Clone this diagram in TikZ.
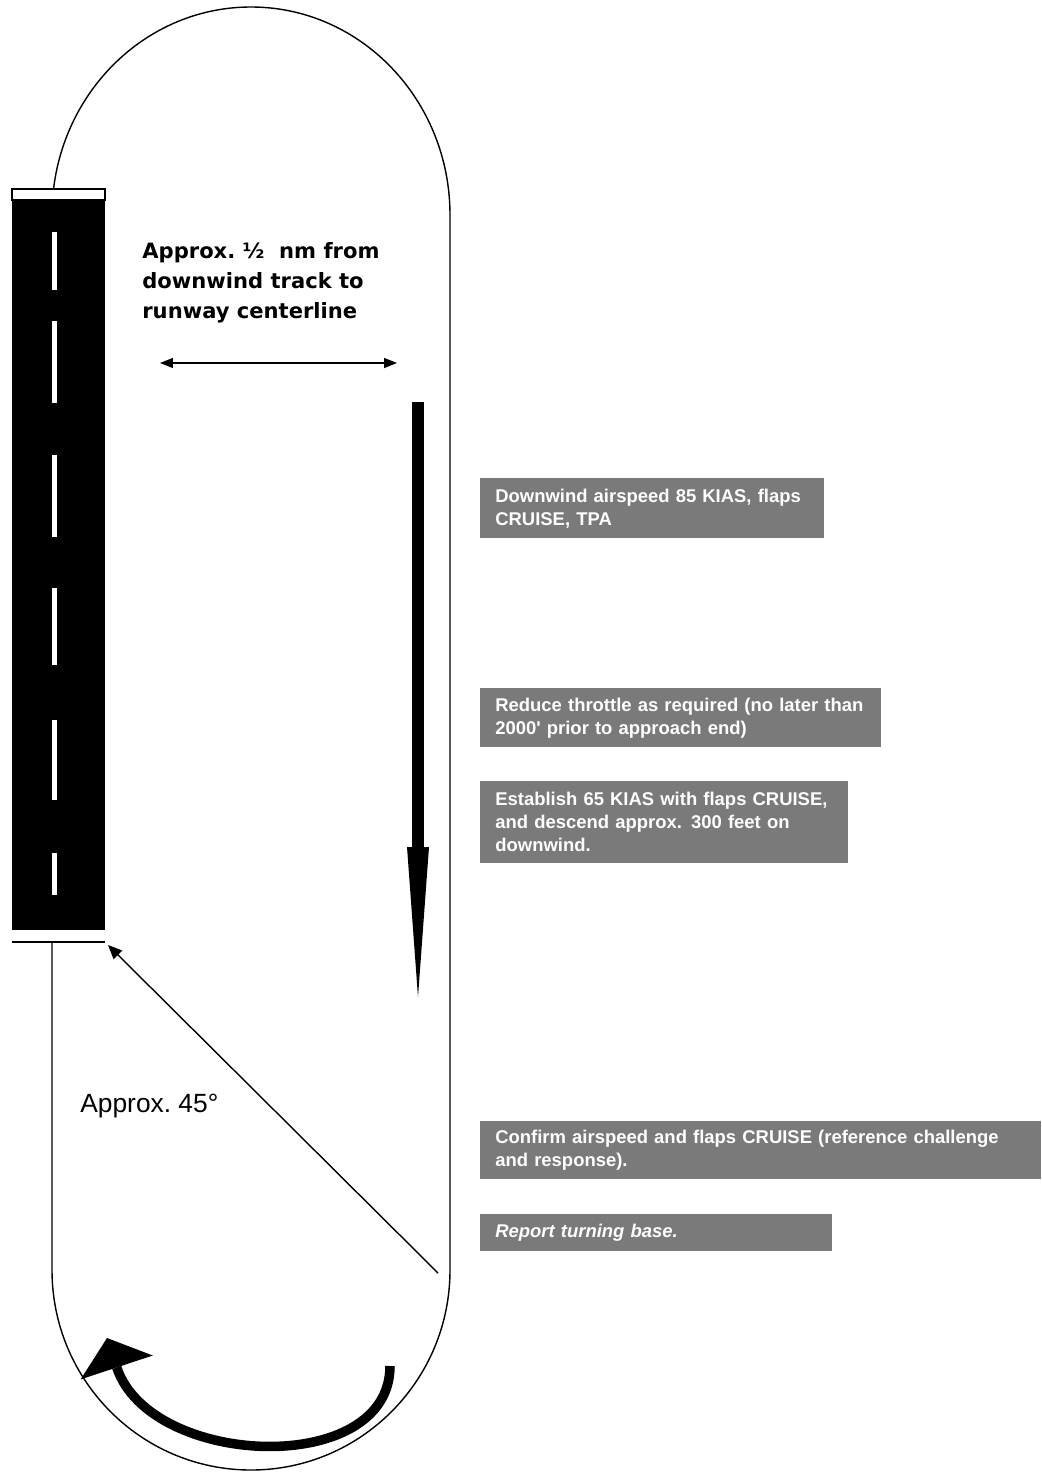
\documentclass[tikz,border=0pt]{standalone}
\usepackage{fontspec}
\usepackage{xcolor}
\usepackage{tikz}
\usetikzlibrary{arrows.meta, positioning}

\newfontfamily\notefont{Liberation Sans}
\newfontfamily\dimfont{DejaVu Sans}
\definecolor{notegray}{RGB}{122,122,122}

\begin{document}
\begin{tikzpicture}[
    x=0.02cm, y=-0.02cm,
    track/.style={line width=0.8pt},
    note/.style={rectangle, fill=notegray, text=white, anchor=north west, align=left, inner xsep=0.3cm, inner ysep=0pt, font=\notefont\bfseries\fontsize{10.5}{13}\selectfont},
    dimarrow/.style={{Triangle[length=0.26cm,width=0.2cm]}-{Triangle[length=0.26cm,width=0.2cm]}, line width=0.8pt},
    legarrow/.style={-{Triangle[width=0.44cm,length=3cm,line width=0pt]}, line width=0.24cm},
    basearrow/.style={-{Triangle[length=0.28cm,width=0.24cm]}, line width=0.8pt},
    turnarrow/.style={-{Triangle[width=1.52cm,length=0.62cm,line width=0pt]}, line width=0.19cm},
]
\useasboundingbox (0,0) rectangle (1041,1473);

% pattern
\draw[track] (52,942) -- (52,1270) arc[start angle=180, end angle=0, x radius=199, y radius=200]
    -- (450,215) arc[start angle=0, end angle=-180, x radius=199, y radius=208] -- (52,189);

% runway
\draw[line width=0.8pt, fill=white] (12,189) rectangle (105,200);
\fill (12,200) rectangle (105,930);
\draw[line width=0.8pt] (12,942) -- (105,942);
\foreach \a/\b in {232/290, 321/403, 455/537, 588/665, 720/800, 853/895}
    \fill[white] (52,\a) rectangle (57,\b);

% labels
\node[font=\dimfont\bfseries\fontsize{12}{17}\selectfont, align=left, anchor=north west, inner sep=0pt] (dimlbl) at (142,242) {Approx.\ ½\ \ nm from\\downwind track to\\runway centerline};
\node[font=\notefont\fontsize{15}{18}\selectfont, anchor=base west, inner sep=0pt] (anglelbl) at (80,1112) {Approx.\ 45°};

% arrows
\coordinate (rwyctr) at (160,363);
\coordinate (dwtrack) at (397,363);
\coordinate (dwtop) at (418,402);
\coordinate (dwend) at (418,997);
\coordinate (basestart) at (438,1273);
\coordinate (rwyend) at (108,945);
\coordinate (turnstart) at (390,1366);
\coordinate (turnend) at (107,1338);
\draw[dimarrow] (rwyctr) -- (dwtrack);
\draw[legarrow] (dwtop) -- (dwend);
\draw[basearrow] (basestart) -- (rwyend);
\draw[turnarrow] (turnstart) .. controls (390,1478) and (150,1468) .. (turnend);

% notes
\node[note, text width=6.28cm, minimum height=1.2cm] (dwspeed) at (480,478) {Downwind airspeed 85 KIAS, flaps\\CRUISE, TPA};
\node[note, text width=7.42cm, minimum height=1.18cm] (throttle) at (480,688) {Reduce throttle as required (no later than\\2000' prior to approach end)};
\node[note, text width=6.76cm, minimum height=1.64cm, below=0.66cm of throttle.south west, anchor=north west] (descend) {Establish 65 KIAS with flaps CRUISE,\\and descend approx. 300 feet on\\downwind.};
\node[note, text width=10.62cm, minimum height=1.16cm] (confirm) at (480,1121) {Confirm airspeed and flaps CRUISE (reference challenge\\and response).};
\node[note, text width=6.44cm, minimum height=0.74cm, below=0.68cm of confirm.south west, anchor=north west] (report) {\itshape Report turning base.};
\end{tikzpicture}
\end{document}
